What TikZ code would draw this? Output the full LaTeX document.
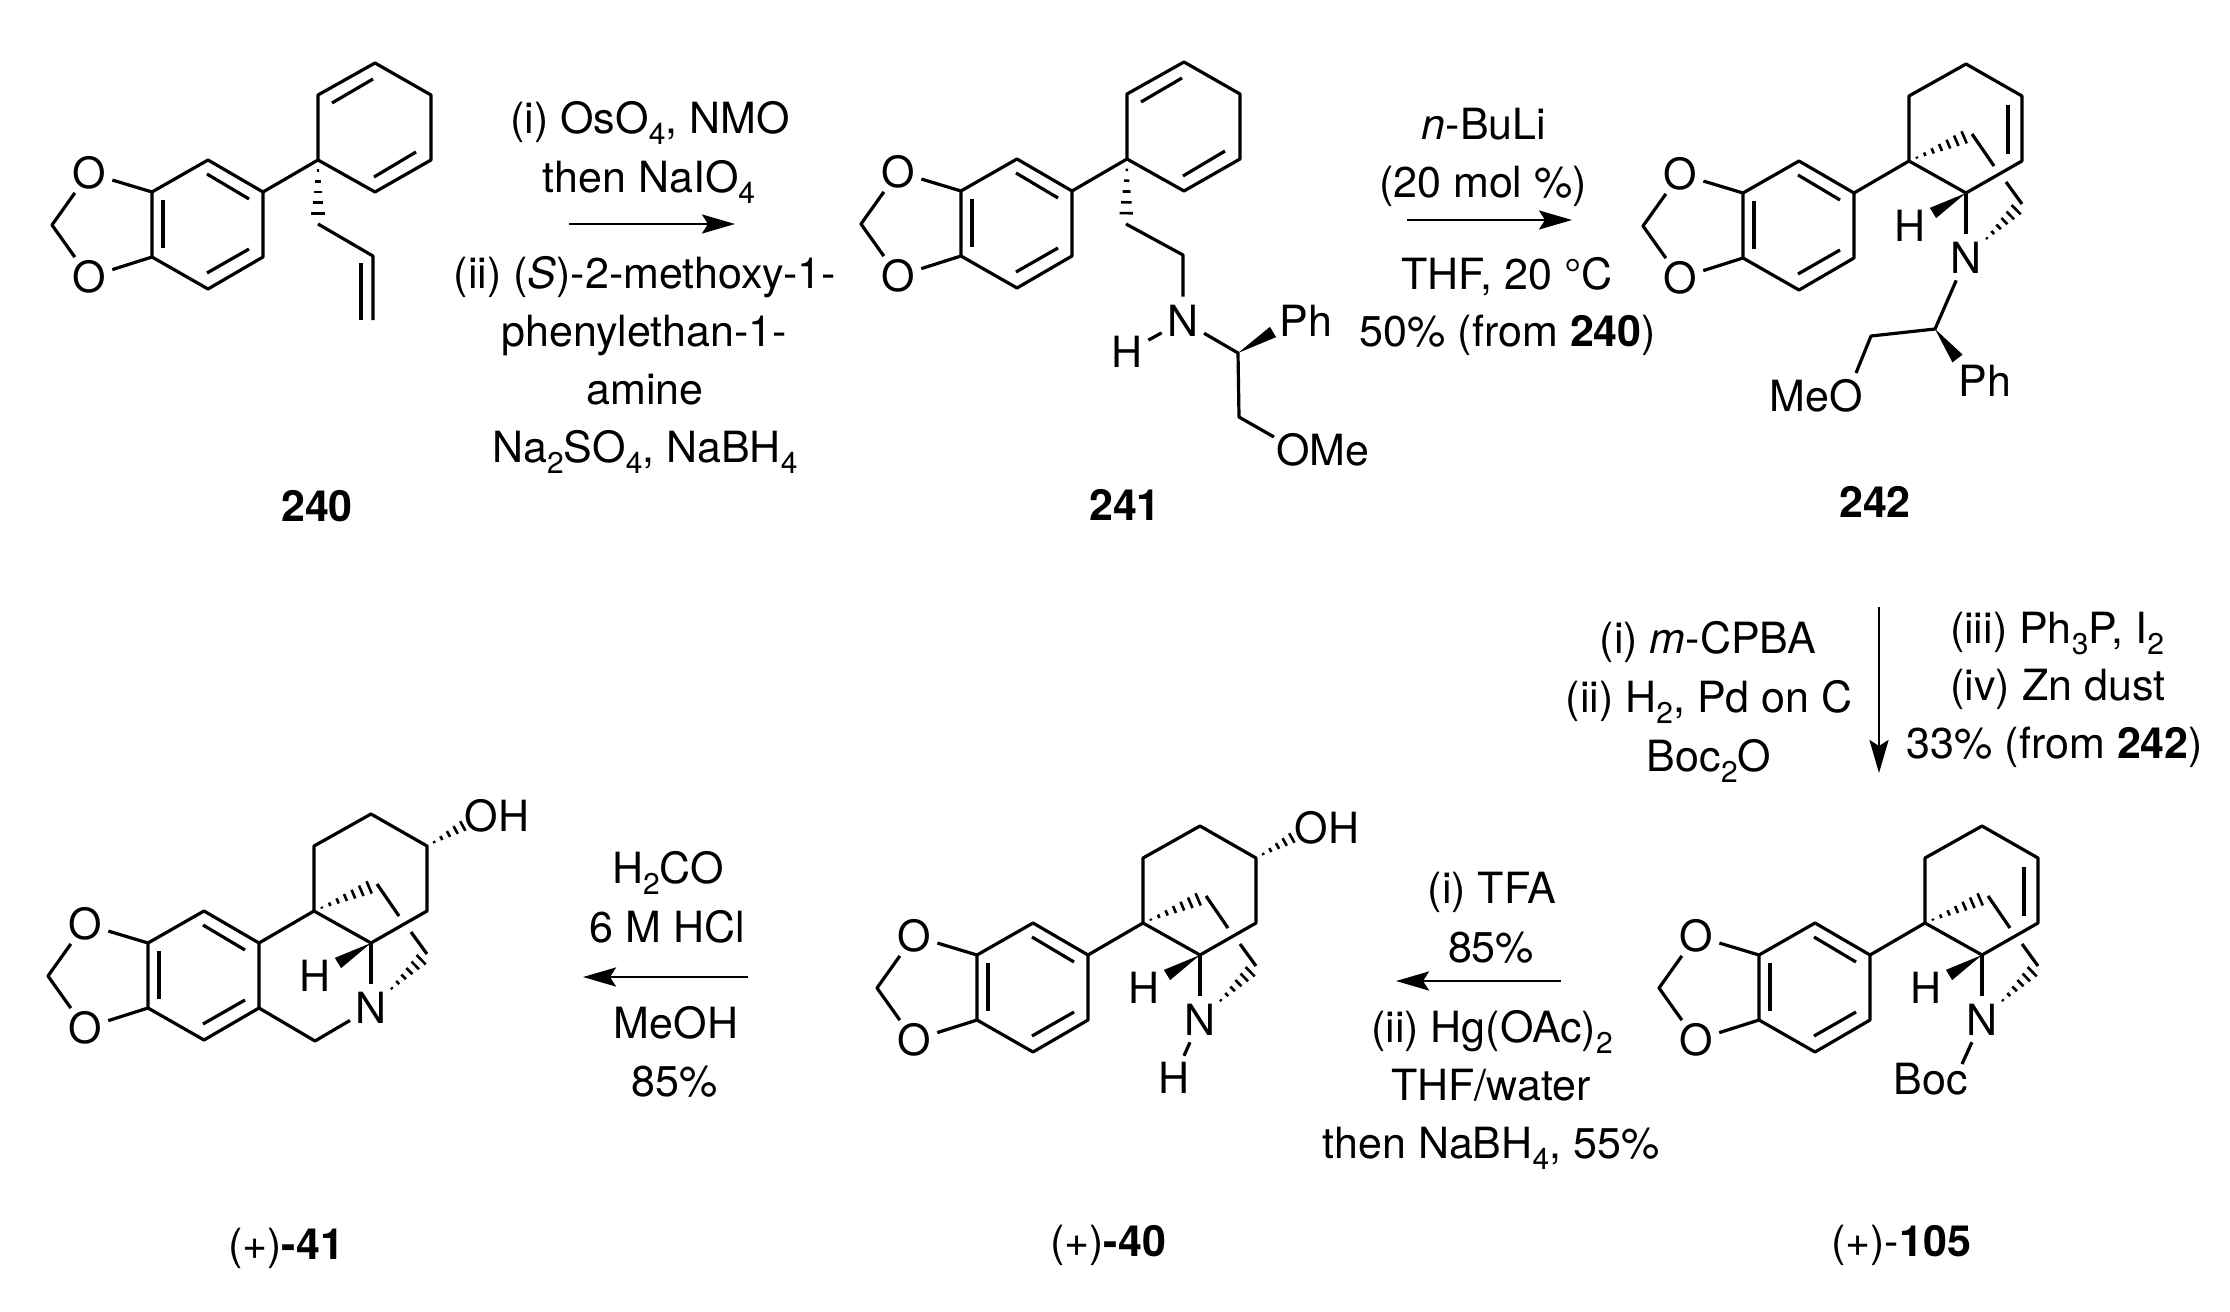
\documentclass[tikz,border=0pt]{standalone}
\usepackage{fontspec}
\setmainfont{TeX Gyre Heros}
\usetikzlibrary{calc,arrows.meta}

\tikzset{
  bond/.style={line width=1.6pt, line join=round},
  hash/.style={line width=1.3pt},
  arrow/.style={line width=1.4pt, -{Stealth[length=16.5pt, width=9.5pt, inset=3pt]}},
  atom/.style={circle, inner sep=0pt, minimum size=24pt, font=\fontsize{21.5}{26}\selectfont},
  txt/.style={anchor=base, inner sep=0pt, yshift=-0.8pt, font=\fontsize{21.5}{26}\selectfont},
}

\newcommand{\subnum}[1]{\raisebox{-5.5pt}{\fontsize{15}{15}\selectfont #1}}

\newcommand{\hashbond}[4]{
  \foreach \i in {1,...,#4} {
    \pgfmathsetmacro{\hpos}{\i/(#4+1)}
    \draw[hash] ($(#1)!\hpos!(#2)!\hpos*#3!90:(#2)$) -- ($(#1)!\hpos!(#2)!\hpos*#3!-90:(#2)$);
  }
}
\newcommand{\wedgebond}[3]{
  \fill (#1) -- ($(#2)!#3!90:(#1)$) -- ($(#2)!#3!-90:(#1)$) -- cycle;
}

% aryl ring, dioxole and the cyclohexane ring
\newcommand{\dioxole}[2]{
  \begin{scope}[shift={(#1, #2)}]
    \coordinate (r1) at (0, 0);
    \coordinate (r2) at (56, -32);
    \coordinate (r3) at (111, 0);
    \coordinate (r4) at (111, 65);
    \coordinate (r5) at (56, 97);
    \coordinate (r6) at (0, 65);
    \coordinate (ch2) at (-100, 33);
    \coordinate (q) at (166, -32);
    \coordinate (a) at (166, -97);
    \coordinate (b) at (223, -129);
    \coordinate (c) at (279, -97);
    \coordinate (d) at (279, -32);
    \coordinate (e) at (223, 0);
    \node[atom] (o1) at (-63, -19) {O};
    \node[atom] (o2) at (-63, 85) {O};
    \draw[bond] (r1) -- (r2) -- (r3) -- (r4) -- (r5) -- (r6) -- cycle;
    \draw[bond] (r1) -- (o1) -- (ch2) -- (o2) -- (r6);
    \draw[bond] (11, 8) -- (11, 56);
    \draw[bond] (55, -18) -- (97, 7);
    \draw[bond] (55, 81) -- (97, 57);
    \draw[bond] (r3) -- (q) -- (a) -- (b) -- (c) -- (d) -- (e) -- (q);
  \end{scope}
}

\newcommand{\diene}[2]{
  \begin{scope}[shift={(#1, #2)}]
    \draw[bond] (180, -89) -- (221, -113);
    \draw[bond] (222, -15) -- (264, -40);
  \end{scope}
}

% the bridge with its N and H
\newcommand{\bridge}[2]{
  \begin{scope}[shift={(#1, #2)}]
    \coordinate (up) at (229, -59);
    \coordinate (nh) at (238, 51);
    \coordinate (lo) at (279, 11);
    \coordinate (tip) at (190, 20);
    \node[atom] (hh) at (167, 33) {H};
    \node[atom] (n) at (223, 65) {N};
    \draw[bond] (e) -- (n);
    \draw[bond] (up) -- (251, -27);
    \draw[bond] (263, -11) -- (lo);
    \hashbond{q}{up}{3.8pt}{7}
    \hashbond{nh}{lo}{3.8pt}{6}
    \wedgebond{e}{tip}{3pt}
  \end{scope}
}

\begin{document}
\begin{tikzpicture}[x=0.5pt, y=-0.5pt]
  \useasboundingbox (0, 0) rectangle (2230, 1311);

  % 240
  \dioxole{152}{192}
  \diene{152}{192}
  \coordinate (c1) at (318, 224);
  \coordinate (c2) at (373, 256);
  \coordinate (c3) at (373, 320);
  \hashbond{q}{c1}{4pt}{5}
  \draw[bond] (c1) -- (c2) -- (c3);
  \draw[bond] (361, 263) -- (361, 320);
  \node[txt] (l240) at (317, 520) {\textbf{240}};

  % first arrow
  \node[txt] (t1a) at (650, 132) {(i) OsO\subnum{4}, NMO};
  \node[txt] (t1b) at (649, 191) {then NaIO\subnum{4}};
  \node[txt] (t1c) at (645, 287) {(ii) (\textit{S})-2-methoxy-1-};
  \node[txt] (t1d) at (644, 345) {phenylethan-1-};
  \node[txt] (t1e) at (645, 403) {amine};
  \node[txt] (t1f) at (645, 461) {Na\subnum{2}SO\subnum{4}, NaBH\subnum{4}};
  \coordinate (a1s) at (569, 224);
  \coordinate (a1e) at (735, 224);
  \draw[arrow] (a1s) -- (a1e);

  % 241
  \dioxole{961}{191}
  \diene{961}{191}
  \coordinate (d1) at (1126, 224);
  \coordinate (d2) at (1183, 255);
  \coordinate (d3) at (1238, 353);
  \coordinate (d4) at (1239, 417);
  \coordinate (d5) at (1274, 437);
  \coordinate (d6) at (1273, 332);
  \node[atom] (n241) at (1183, 321) {N};
  \node[atom] (h241) at (1127, 352) {H};
  \hashbond{q}{d1}{4pt}{5}
  \draw[bond] (d1) -- (d2) -- (n241) -- (d3) -- (d4) -- (d5);
  \draw[bond] (n241) -- (h241);
  \wedgebond{d3}{d6}{3pt}
  \node[txt] (ph241) at (1306, 335) {Ph};
  \node[txt] (ome241) at (1323, 464) {OMe};
  \node[txt] (l241) at (1125, 519) {\textbf{241}};

  % second arrow
  \node[txt] (t2a) at (1484, 138) {\textit{n}-BuLi};
  \node[txt] (t2b) at (1483, 196) {(20 mol \%)};
  \node[txt] (t2c) at (1507, 288) {THF, 20 °C};
  \node[txt] (t2d) at (1508, 345) {50\% (from \textbf{240})};
  \coordinate (a2s) at (1407, 220);
  \coordinate (a2e) at (1572, 220);
  \draw[arrow] (a2s) -- (a2e);

  % 242
  \dioxole{1743}{193}
  \bridge{1743}{193}
  \draw[bond] (2008, 105) -- (2008, 154);
  \coordinate (f1) at (1935, 329);
  \coordinate (f2) at (1871, 336);
  \coordinate (f3) at (1856, 373);
  \coordinate (f4) at (1957.5, 358.5);
  \draw[bond] (n) -- (f1) -- (f2) -- (f3);
  \wedgebond{f1}{f4}{3.2pt}
  \node[txt] (ph242) at (1985, 395) {Ph};
  \node[txt] (meo242) at (1816, 410) {MeO};
  \node[txt] (l242) at (1875, 516) {\textbf{242}};

  % third arrow
  \node[txt] (t3a) at (1708, 652) {(i) \textit{m}-CPBA};
  \node[txt] (t3b) at (1709, 711) {(ii) H\subnum{2}, Pd on C};
  \node[txt] (t3c) at (1709, 770) {Boc\subnum{2}O};
  \node[txt] (t3d) at (2057, 642) {(iii) Ph\subnum{3}P, I\subnum{2}};
  \node[txt] (t3e) at (2058, 699) {(iv) Zn dust};
  \node[txt] (t3f) at (2055, 757) {33\% (from \textbf{242})};
  \coordinate (a3s) at (1879, 607);
  \coordinate (a3e) at (1879, 773);
  \draw[arrow] (a3s) -- (a3e);

  % 105
  \dioxole{1759}{955}
  \bridge{1759}{955}
  \draw[bond] (2024, 867) -- (2024, 916);
  \coordinate (g1) at (1962, 1064);
  \draw[bond] (n) -- (g1);
  \node[txt] (boc105) at (1931, 1093) {Boc};
  \node[txt] (l105) at (1901, 1255) {(+)-\textbf{105}};

  % fourth arrow
  \node[txt] (t4a) at (1492, 902) {(i) TFA};
  \node[txt] (t4b) at (1491, 961) {85\%};
  \node[txt] (t4c) at (1492, 1041) {(ii) Hg(OAc)\subnum{2}};
  \node[txt] (t4d) at (1491, 1099) {THF/water};
  \node[txt] (t4e) at (1491, 1157) {then NaBH\subnum{4}, 55\%};
  \coordinate (a4s) at (1561, 981);
  \coordinate (a4e) at (1396, 981);
  \draw[arrow] (a4s) -- (a4e);

  % 40
  \dioxole{977}{955}
  \bridge{977}{955}
  \coordinate (k1) at (1299, 834);
  \hashbond{c}{k1}{3.3pt}{5}
  \node[atom] (h40) at (1174, 1078) {H};
  \draw[bond] (n) -- (h40);
  \node[txt] (oh40) at (1327, 842) {OH};
  \node[txt] (l40) at (1108, 1255) {(+)\textbf{-40}};

  % fifth arrow
  \node[txt] (t5a) at (668, 882) {H\subnum{2}CO};
  \node[txt] (t5b) at (667, 941) {6 M HCl};
  \node[txt] (t5c) at (676, 1037) {MeOH};
  \node[txt] (t5d) at (675, 1095) {85\%};
  \coordinate (a5s) at (748, 977);
  \coordinate (a5e) at (583, 977);
  \draw[arrow] (a5s) -- (a5e);

  % 41
  \dioxole{148}{943}
  \bridge{148}{943}
  \coordinate (m1) at (315, 1041);
  \coordinate (m2) at (470, 822);
  \draw[bond] (r4) -- (m1) -- (n);
  \hashbond{c}{m2}{3.3pt}{5}
  \node[txt] (oh41) at (497, 830) {OH};
  \node[txt] (l41) at (286, 1258) {(+)\textbf{-41}};
\end{tikzpicture}
\end{document}
